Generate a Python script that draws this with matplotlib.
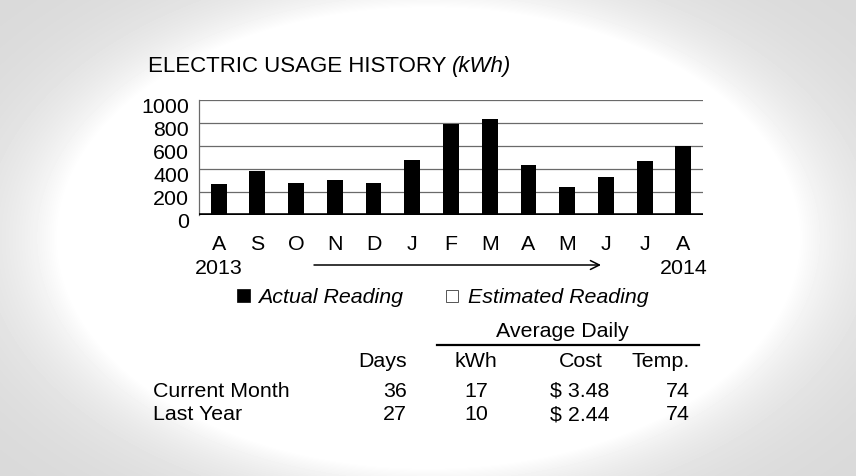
"""
Electric usage history bar chart with the small summary table below it.
"""
#===========================================
import numpy as np
import matplotlib
matplotlib.use("Agg")
import matplotlib.pyplot as plt
import matplotlib.transforms as mtransforms
from matplotlib.patches import Rectangle
#===========================================

months    = ['A', 'S', 'O', 'N', 'D', 'J', 'F', 'M', 'A', 'M', 'J', 'J', 'A']
usage_kwh = [270, 385, 276, 305, 282, 483, 795, 838, 432, 242, 334, 475, 598]
y_ticks   = [0, 200, 400, 600, 800, 1000]
years     = ['2013', '2014']

row_names   = ['Current Month', 'Last Year']
days        = ['36', '27']
avg_kwh     = ['17', '10']
avg_cost    = ['$ 3.48', '$ 2.44']
avg_temp    = ['74', '74']

W, H = 856, 477
FONT = 'Liberation Sans'
FS = 15.4

plt.rcParams['font.family'] = [FONT, 'DejaVu Sans']

#===========================================
# pixel (top-left origin) -> figure fraction
def fxy(x, y):
    return x / W, 1 - y / H

def ptext(fig, x, y, s, ha='left', size=FS, style='normal'):
    fx, fy = fxy(x, y)
    fig.text(fx, fy, s, ha=ha, va='baseline', fontsize=size, style=style, color='black')

#===========================================
fig = plt.figure(figsize=(W / 100, H / 100), dpi=100)

# soft grey vignette behind everything
bg = fig.add_axes([0, 0, 1, 1], zorder=-10)
xx, yy = np.meshgrid(np.arange(W), np.arange(H))
u = (xx - W / 2) / (W / 2) / 0.96
v = (yy - H / 2) / (H / 2) / 1.07
r = np.sqrt(u ** 2 + v ** 2)
shade = 1 - 0.155 * (1 - np.exp(-np.clip(r - 0.9, 0, None) / 0.16))
bg.imshow(shade, cmap='gray', vmin=0, vmax=1, aspect='auto', interpolation='bilinear')
bg.set_axis_off()

# bar chart
left, right, top, bottom = 199.3, 702.7, 101.0, 216.3
ax = fig.add_axes([left / W, 1 - bottom / H, (right - left) / W, (bottom - top) / H])
ax.set_facecolor('none')
x = np.arange(len(months))
ax.bar(x, usage_kwh, width=0.41, color='black', zorder=3)
ax.set_xlim(-0.5, len(months) - 0.5)
ax.set_ylim(0, 1000)
ax.set_yticks(y_ticks)
ax.set_yticklabels([str(t) for t in y_ticks], fontsize=FS)
ax.set_xticks([])
ax.tick_params(axis='y', length=0, pad=7.5)
for lab in ax.get_yticklabels():
    lab.set_transform(lab.get_transform() + mtransforms.ScaledTranslation(0, -4.5 / 100, fig.dpi_scale_trans))
for t in y_ticks[1:]:
    ax.axhline(t, color='#6a6a6a', lw=0.9, zorder=1)
ax.axhline(0, color='black', lw=2.6, zorder=4)
for s in ['top', 'right', 'bottom']:
    ax.spines[s].set_visible(False)
ax.spines['left'].set_color('#6a6a6a')
ax.spines['left'].set_linewidth(0.9)

# month letters and years under the bars
trans = mtransforms.blended_transform_factory(ax.transData, fig.transFigure)
for i, m in enumerate(months):
    ax.text(i, fxy(0, 250)[1], m, transform=trans, ha='center', va='baseline', fontsize=FS)
ax.text(0, fxy(0, 274)[1], years[0], transform=trans, ha='center', va='baseline', fontsize=FS)
ax.text(len(months) - 1, fxy(0, 274)[1], years[1], transform=trans, ha='center', va='baseline', fontsize=FS)
ax.annotate('', xy=fxy(601, 266), xytext=fxy(314, 266), xycoords='figure fraction',
            textcoords='figure fraction', annotation_clip=False,
            arrowprops=dict(arrowstyle='->', lw=1.1, color='black', mutation_scale=16,
                            shrinkA=0, shrinkB=0))

# legend
fig.add_artist(Rectangle(fxy(237, 303), 13 / W, 13 / H, transform=fig.transFigure,
                         facecolor='black', edgecolor='black', lw=0.5))
ptext(fig, 258.5, 303, 'Actual Reading', style='italic')
fig.add_artist(Rectangle(fxy(445.5, 303), 12.5 / W, 12.5 / H, transform=fig.transFigure,
                         facecolor='white', edgecolor='#555555', lw=0.7))
ptext(fig, 467.5, 303, 'Estimated Reading', style='italic')

# summary table
ptext(fig, 562, 336.7, 'Average Daily', ha='center')
fig.add_artist(plt.Line2D([437 / W, 699 / W], [fxy(0, 345.5)[1]] * 2, transform=fig.transFigure,
                          color='black', lw=1.6))
ptext(fig, 406.7, 367, 'Days', ha='right')
ptext(fig, 475.5, 367, 'kWh', ha='center')
ptext(fig, 580.5, 367, 'Cost', ha='center')
ptext(fig, 689.5, 367, 'Temp.', ha='right')

for k, yb in enumerate([397, 420.5]):
    ptext(fig, 152.7, yb, row_names[k])
    ptext(fig, 406.7, yb, days[k], ha='right')
    ptext(fig, 476, yb, avg_kwh[k], ha='center')
    ptext(fig, 580, yb, avg_cost[k], ha='center')
    ptext(fig, 689.5, yb, avg_temp[k], ha='right')

# title, with the unit in italics
fx, fy = fxy(148, 72)
t1 = fig.text(fx, fy, 'ELECTRIC USAGE HISTORY ', ha='left', va='baseline', fontsize=FS + 0.6)
fig.canvas.draw()
bb = t1.get_window_extent()
fig.text(bb.x1 / W, fy, '(kWh)', ha='left', va='baseline', fontsize=FS + 0.6, style='italic')

fig.savefig('out.png', dpi=100)
